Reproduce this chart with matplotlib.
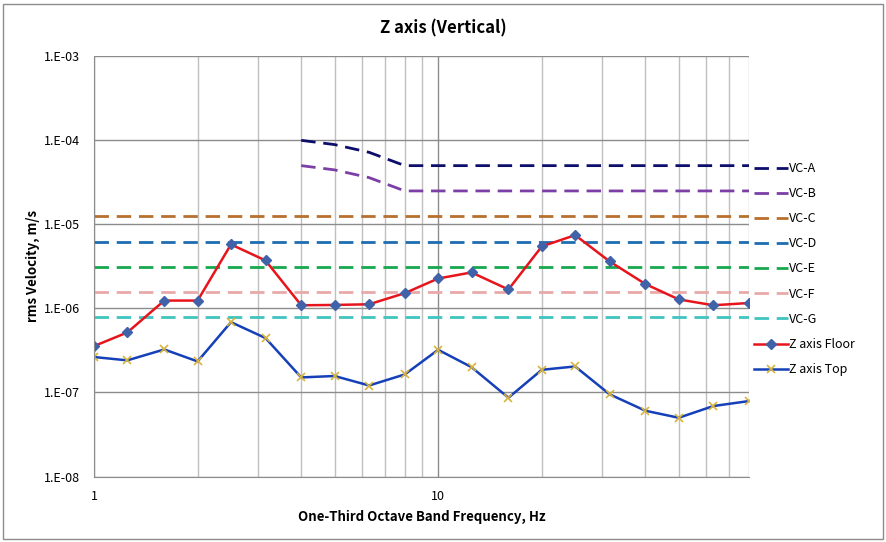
import matplotlib
matplotlib.use('Agg')
import matplotlib.pyplot as plt
from matplotlib.patches import Rectangle
from matplotlib.ticker import LogLocator, FixedLocator, NullFormatter, FixedFormatter

plt.rcParams['font.family'] = ['Noto Sans CJK KR', 'DejaVu Sans']

# One-third octave band centre frequencies, Hz
freq = [1, 1.25, 1.6, 2, 2.5, 3.15, 4, 5, 6.3, 8, 10, 12.5, 16, 20, 25, 31.5, 40, 50, 63, 80]

# measured rms velocity, m/s
z_floor = [3.56e-7, 5.18e-7, 1.24e-6, 1.24e-6, 5.77e-6, 3.72e-6, 1.09e-6, 1.10e-6, 1.12e-6, 1.52e-6,
           2.27e-6, 2.68e-6, 1.68e-6, 5.46e-6, 7.45e-6, 3.62e-6, 1.95e-6, 1.28e-6, 1.09e-6, 1.16e-6]
z_top = [2.64e-7, 2.41e-7, 3.25e-7, 2.34e-7, 6.87e-7, 4.44e-7, 1.51e-7, 1.57e-7, 1.21e-7, 1.64e-7,
         3.22e-7, 2.00e-7, 8.65e-8, 1.86e-7, 2.04e-7, 9.5e-8, 6.06e-8, 5.0e-8, 6.89e-8, 7.9e-8]

# vibration criteria curves
freq_ab = freq[6:]
vc_a = [1.0e-4, 8.9e-5, 7.2e-5] + [5.0e-5] * 11
vc_b = [5.0e-5, 4.45e-5, 3.6e-5] + [2.5e-5] * 11
vc_c = [1.25e-5] * 20
vc_d = [6.25e-6] * 20
vc_e = [3.125e-6] * 20
vc_f = [1.5625e-6] * 20
vc_g = [7.8e-7] * 20

fig = plt.figure(figsize=(8.87, 5.42), dpi=100)
ax = fig.add_axes([94 / 887, 1 - 476.5 / 542, (749 - 94) / 887, (476.5 - 56.3) / 542])

dash = (0, (5.2, 2.8))
ax.plot(freq_ab, vc_a, color='#0d0d6b', lw=2, ls=dash, label='VC-A')
ax.plot(freq_ab, vc_b, color='#7b3fa6', lw=2, ls=dash, label='VC-B')
ax.plot(freq, vc_c, color='#b8702e', lw=2, ls=dash, label='VC-C')
ax.plot(freq, vc_d, color='#1d6db0', lw=2, ls=dash, label='VC-D')
ax.plot(freq, vc_e, color='#17a84e', lw=2, ls=dash, label='VC-E')
ax.plot(freq, vc_f, color='#e8a9a9', lw=2, ls=dash, label='VC-F')
ax.plot(freq, vc_g, color='#40c4c0', lw=2, ls=dash, label='VC-G')
ax.plot(freq, z_floor, color='#e8141c', lw=1.8, marker='D', ms=5,
        mfc='#3f62a8', mec='#3f62a8', label='Z axis Floor')
ax.plot(freq, z_top, color='#1540b8', lw=1.8, marker='x', ms=6, mew=1.2,
        mec='#d9b43a', label='Z axis Top')

ax.set_xscale('log')
ax.set_yscale('log')
ax.set_xlim(1, 80)
ax.set_ylim(1e-8, 1e-3)

ax.xaxis.set_major_locator(FixedLocator([1, 10]))
ax.xaxis.set_major_formatter(FixedFormatter(['1', '10']))
ax.xaxis.set_minor_locator(LogLocator(base=10, subs=range(2, 10)))
ax.xaxis.set_minor_formatter(NullFormatter())
yt = [1e-8, 1e-7, 1e-6, 1e-5, 1e-4, 1e-3]
ax.yaxis.set_major_locator(FixedLocator(yt))
ax.yaxis.set_major_formatter(FixedFormatter(['1.E-08', '1.E-07', '1.E-06', '1.E-05', '1.E-04', '1.E-03']))
ax.yaxis.set_minor_locator(FixedLocator([]))

ax.grid(True, which='major', color='#8c8c8c', lw=1)
ax.grid(True, which='minor', axis='x', color='#bfbfbf', lw=1)
ax.set_axisbelow(True)
for s in ['top', 'right']:
    ax.spines[s].set_visible(False)
for s in ['left', 'bottom']:
    ax.spines[s].set_color('#8c8c8c')
ax.tick_params(which='both', length=0, labelsize=9, colors='#404040')
ax.tick_params(axis='x', pad=10)
ax.tick_params(axis='y', pad=10)
for lab in ax.get_xticklabels() + ax.get_yticklabels():
    lab.set_color('black')

ax.set_xlabel('One-Third Octave Band Frequency, Hz', fontsize=9.5, fontweight='bold', labelpad=5)
ax.set_ylabel('rms Velocity, m/s', fontsize=9.5, fontweight='bold', labelpad=3)
fig.text(443 / 887, 1 - 28 / 542, 'Z axis (Vertical)', ha='center', va='center',
         fontsize=12, fontweight='bold')

ax.legend(loc='upper left', bbox_to_anchor=(754 / 887, 1 - 162 / 542), bbox_transform=fig.transFigure,
          frameon=False, fontsize=9, handlelength=2.7, handletextpad=0.1, labelspacing=0.97,
          borderaxespad=0, borderpad=0)

fig.patches.append(Rectangle((3 / 887, 3 / 542), 880 / 887, 535 / 542, transform=fig.transFigure,
                             fill=False, edgecolor='#8c8c8c', lw=1))

fig.savefig('out.png', dpi=100)
